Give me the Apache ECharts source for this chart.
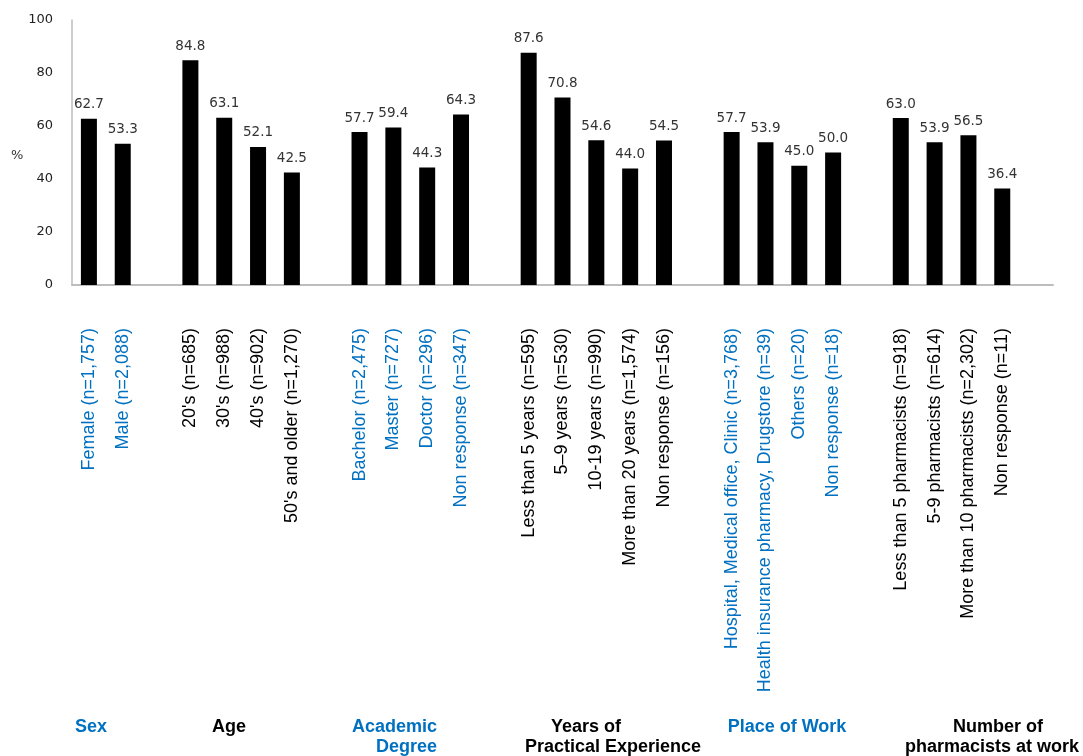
<!DOCTYPE html>
<html>
<head>
<meta charset="utf-8">
<script src="https://cdn.jsdelivr.net/npm/echarts@6/dist/echarts.min.js"></script>
<style>
  html, body { margin: 0; padding: 0; background: #fff; }
  #chart { width: 1083px; height: 756px; }
</style>
</head>
<body>
<div id="chart"></div>
<script>
// categories ('' = gap between groups)
var categories = [
  'Female (n=1,757)', 'Male (n=2,088)', '',
  "20's (n=685)", "30's (n=988)", "40's (n=902)", "50's and older (n=1,270)", '',
  'Bachelor (n=2,475)', 'Master (n=727)', 'Doctor (n=296)', 'Non response (n=347)', '',
  'Less than 5 years (n=595)', '5–9 years (n=530)', '10-19 years (n=990)', 'More than 20 years (n=1,574)', 'Non response (n=156)', '',
  'Hospital, Medical office, Clinic (n=3,768)', 'Health insurance pharmacy, Drugstore (n=39)', 'Others (n=20)', 'Non response (n=18)', '',
  'Less than 5 pharmacists (n=918)', '5-9 pharmacists (n=614)', 'More than 10 pharmacists (n=2,302)', 'Non response (n=11)', ''
]
var values = [
  62.7, 53.3, null,
  84.8, 63.1, 52.1, 42.5, null,
  57.7, 59.4, 44.3, 64.3, null,
  87.6, 70.8, 54.6, 44.0, 54.5, null,
  57.7, 53.9, 45.0, 50.0, null,
  63.0, 53.9, 56.5, 36.4, null
]
// which group each category belongs to (blue groups = 1)
var blueFlags = [
  1, 1, 0,
  0, 0, 0, 0, 0,
  1, 1, 1, 1, 0,
  0, 0, 0, 0, 0, 0,
  1, 1, 1, 1, 0,
  0, 0, 0, 0, 0
]
var yTicks = [0, 20, 40, 60, 80, 100]

var BLUE = '#0070c0'
var TITLE_FONT = 'bold 18px Liberation Sans'
var chart = echarts.init(document.getElementById('chart'))

chart.setOption({
  animation: false,
  grid: { left: 72, right: 30, top: 20, bottom: 471, containLabel: false },
  xAxis: {
    type: 'category',
    data: categories.map(function (c, i) {
      return { value: c, textStyle: { color: blueFlags[i] ? BLUE : '#000' } }
    }),
    axisLine: { lineStyle: { color: '#bdbdbd', width: 2 } },
    axisTick: { show: false },
    axisLabel: {
      interval: 0,
      rotate: 90,
      margin: 43,
      fontFamily: 'Liberation Sans',
      fontSize: 18
    }
  },
  yAxis: {
    type: 'value',
    min: yTicks[0],
    max: yTicks[yTicks.length - 1],
    interval: 20,
    splitLine: { show: false },
    axisLine: { show: true, lineStyle: { color: '#bdbdbd', width: 1.5 } },
    axisTick: { show: false },
    axisLabel: {
      margin: 19,
      fontFamily: 'DejaVu Sans',
      fontSize: 13,
      color: '#222'
    }
  },
  series: [{
    type: 'bar',
    data: values,
    barWidth: 16,
    itemStyle: { color: '#000' },
    label: {
      show: true,
      position: 'top',
      distance: 7,
      fontFamily: 'DejaVu Sans',
      fontSize: 13.5,
      color: '#333',
      formatter: function (p) { return p.value == null ? '' : p.value.toFixed(1) }
    }
  }],
  graphic: [
    { type: 'text', left: 11, top: 149, style: { text: '%', font: '13px DejaVu Sans', fill: '#333' } },
    { type: 'text', x: 91, y: 727, style: { text: 'Sex', font: TITLE_FONT, fill: BLUE, align: 'center', verticalAlign: 'middle' } },
    { type: 'text', x: 229, y: 727, style: { text: 'Age', font: TITLE_FONT, fill: '#000', align: 'center', verticalAlign: 'middle' } },
    { type: 'text', x: 437, y: 727, style: { text: 'Academic', font: TITLE_FONT, fill: BLUE, align: 'right', verticalAlign: 'middle' } },
    { type: 'text', x: 437, y: 747, style: { text: 'Degree', font: TITLE_FONT, fill: BLUE, align: 'right', verticalAlign: 'middle' } },
    { type: 'text', x: 586, y: 727, style: { text: 'Years of', font: TITLE_FONT, fill: '#000', align: 'center', verticalAlign: 'middle' } },
    { type: 'text', x: 613, y: 747, style: { text: 'Practical Experience', font: TITLE_FONT, fill: '#000', align: 'center', verticalAlign: 'middle' } },
    { type: 'text', x: 787, y: 727, style: { text: 'Place of Work', font: TITLE_FONT, fill: BLUE, align: 'center', verticalAlign: 'middle' } },
    { type: 'text', x: 998, y: 727, style: { text: 'Number of', font: TITLE_FONT, fill: '#000', align: 'center', verticalAlign: 'middle' } },
    { type: 'text', x: 992, y: 747, style: { text: 'pharmacists at work', font: TITLE_FONT, fill: '#000', align: 'center', verticalAlign: 'middle' } }
  ]
})
</script>
</body>
</html>
